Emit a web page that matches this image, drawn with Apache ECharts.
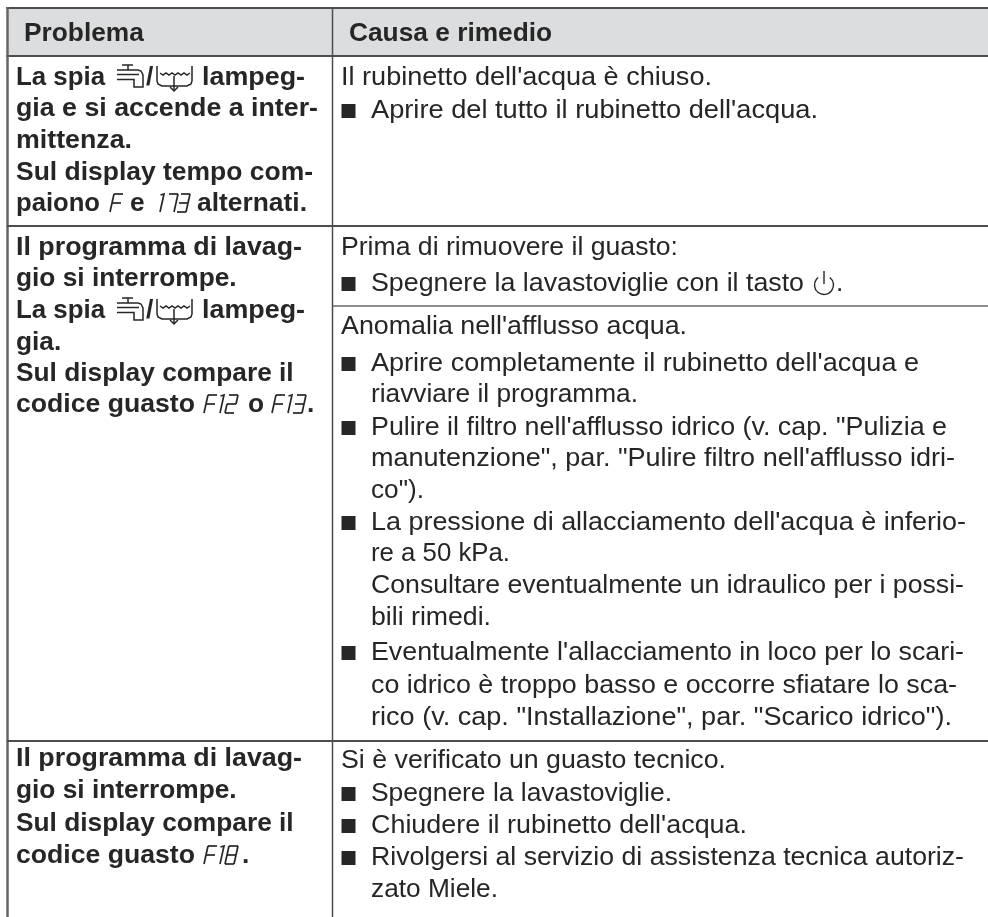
<!DOCTYPE html>
<html><head><meta charset="utf-8">
<style>html,body{margin:0;padding:0;background:#fff}#c{width:988px;height:917px}</style>
<script src="https://cdn.jsdelivr.net/npm/echarts@6/dist/echarts.min.js"></script></head>
<body><div id="c"></div>
<script>
// ---- content ----
const headers = ['Problema', 'Causa e rimedio'];
const problemLines = [
  [['t','La spia'],['faucet'],['t','/'],['tub'],['t','lampeg-']],
  [['t','gia e si accende a inter-']],
  [['t','mittenza.']],
  [['t','Sul display tempo com-']],
  [['t','paiono'],['d','F'],['t','e'],['d','173'],['t','alternati.']],
  [['t','Il programma di lavag-']],
  [['t','gio si interrompe.']],
  [['t','La spia'],['faucet'],['t','/'],['tub'],['t','lampeg-']],
  [['t','gia.']],
  [['t','Sul display compare il']],
  [['t','codice guasto'],['d','F12'],['t','o'],['d','F13'],['t','.']],
  [['t','Il programma di lavag-']],
  [['t','gio si interrompe.']],
  [['t','Sul display compare il']],
  [['t','codice guasto'],['d','F18'],['t','.']]
];
const causeLines = [
  ["Il rubinetto dell'acqua è chiuso.",0],
  ["Aprire del tutto il rubinetto dell'acqua.",1],
  ["Prima di rimuovere il guasto:",0],
  ["Spegnere la lavastoviglie con il tasto",1],
  ["Anomalia nell'afflusso acqua.",0],
  ["Aprire completamente il rubinetto dell'acqua e",1],
  ["riavviare il programma.",2],
  ["Pulire il filtro nell'afflusso idrico (v. cap. \"Pulizia e",1],
  ["manutenzione\", par. \"Pulire filtro nell'afflusso idri-",2],
  ["co\").",2],
  ["La pressione di allacciamento dell'acqua è inferio-",1],
  ["re a 50 kPa.",2],
  ["Consultare eventualmente un idraulico per i possi-",2],
  ["bili rimedi.",2],
  ["Eventualmente l'allacciamento in loco per lo scari-",1],
  ["co idrico è troppo basso e occorre sfiatare lo sca-",2],
  ["rico (v. cap. \"Installazione\", par. \"Scarico idrico\").",2],
  ["Si è verificato un guasto tecnico.",0],
  ["Spegnere la lavastoviglie.",1],
  ["Chiudere il rubinetto dell'acqua.",1],
  ["Rivolgersi al servizio di assistenza tecnica autoriz-",1],
  ["zato Miele.",2]
];
// ---- layout (separate from content) ----
const problemY = [77,108,140,172,203,247,278,310,342,373,404,758,790,823,855];
const causeY = [77,110,247,283,326,363,394,427,458,490,522,553,585,617,652,685,717,760,793,825,857,889];
const causeEnd = [712,818,678,804,687,919,638,947,955,424,966,510,964,491,964,957,952,726,672,747,964,498];
const runX = {0:[16,115,146,158,202],4:[16,110,130,157,197],7:[16,115,146,158,202],10:[16,204,248,272,307],14:[16,204,242]};
const runEnd = {0:[105,0,0,0,305],1:[318],2:[132],3:[313],4:[100,0,0,0,307],5:[302],7:[105,0,0,0,305],10:[195],11:[302],14:[195]};
const FONT = '"Liberation Sans", Arial, sans-serif', INK = '#262626', LINE = '#4d4d4d';
const SIZE = 26.3, DY = 1;
const FAUCET = [
  [[122,5],[133,5]],[[128,5],[128,10]],
  [[117,10],[138,10],[141,11],[143,15],[143,27],[134,27],[134,19.5],[117,19.5]],
  [[117,14.5],[139,14.5]]
];
const TUB = [
  [[157,3],[157,18],[158,21],[162,23],[187,23],[191,21],[192,18],[192,3]],
  [[160,10],[163,12],[166,10],[169,12],[172,10],[175,12],[178,10],[181,12],[184,10],[187,12],[190,10]],
  [[174,13],[174,28]],[[170,24],[174,28],[178,24]]
];
const SEGS = {a:[[0,0],[1,0]],b:[[1,0],[1,.5]],c:[[1,.5],[1,1]],d:[[0,1],[1,1]],e:[[0,.5],[0,1]],f:[[0,0],[0,.5]],g:[[0,.5],[1,.5]]};
const DIGITS = {F:'aefg',2:'abged',3:'abgcd',8:'abcdefg',7:'abc'};

const g = [];
const mctx = document.createElement('canvas').getContext('2d');
const line = (x1,y1,x2,y2,w,c)=>g.push({type:'line',silent:true,shape:{x1,y1,x2,y2},style:{stroke:c||LINE,lineWidth:w||2}});
const text = (x,y,s,bold,end)=>{
  const font=(bold?'bold ':'')+SIZE+'px '+FONT;
  mctx.font=font;
  const sx=end?(end-x)/mctx.measureText(s).width:1;
  g.push({type:'text',x,y:y+DY,scaleX:sx,originX:0,originY:0,style:{text:s,x:0,y:0,fill:INK,font,textAlign:'left',textVerticalAlign:'middle'}});
};
function seg7(x0,yc,str){
  let x=x0; const h=18,w=9,sl=4;
  for(const ch of str){
    const top=yc-h/2;
    const P=(p)=>[x+p[0]*w+(1-p[1])*sl, top+p[1]*h];
    if(ch==='1'){
      g.push({type:'polyline',shape:{points:[[x+sl-.5,top+1],[x+sl+3,top],[x+3,top+h]]},style:{stroke:INK,fill:null,lineWidth:1.7}});
      x+=8; continue;
    }
    for(const k of DIGITS[ch]){
      const [a,b]=SEGS[k];
      g.push({type:'line',shape:{x1:P(a)[0],y1:P(a)[1],x2:P(b)[0],y2:P(b)[1]},style:{stroke:INK,lineWidth:1.7}});
    }
    x+=ch==='F'?13:12;
  }
}
const icon = (strokes,dy)=>strokes.forEach(pts=>g.push({type:'polyline',y:dy,shape:{points:pts},style:{stroke:INK,fill:null,lineWidth:1.5}}));
// header band + rules
g.push({type:'rect',shape:{x:7,y:8,width:981,height:48},style:{fill:'#dcddde'}});
line(6,8,988,8,2); line(6,56,988,56,2);
line(7.5,7,7.5,917,2.5,'#666'); line(332.5,8,332.5,917,1.5);
line(7,226,988,226,2); line(7,741,988,741,2); line(333,306,988,306,1.5,'#666');
text(24,33,headers[0],true); text(349,33,headers[1],true);
// problem column
problemLines.forEach((runs,i)=>{
  const xs=runX[i]||[16], ends=runEnd[i]||[], y=problemY[i];
  runs.forEach((r,j)=>{
    if(r[0]==='t') text(xs[j],y,r[1],true,ends[j]);
    else if(r[0]==='d') seg7(xs[j],y,r[1]);
    else if(r[0]==='faucet') icon(FAUCET,y-17);
    else icon(TUB,y-14);
  });
});
// cause column
causeLines.forEach((c,i)=>{
  const y=causeY[i];
  if(c[1]===1) g.push({type:'rect',shape:{x:341.5,y:y-6,width:14,height:14},style:{fill:INK}});
  text(c[1]===0?341:371,y,c[0],false,causeEnd[i]);
});
// power symbol after "tasto"
g.push({type:'arc',shape:{cx:824,cy:285,r:9.5,startAngle:-Math.PI/2+0.65,endAngle:-Math.PI/2-0.65+Math.PI*2},style:{stroke:INK,fill:null,lineWidth:1.4}});
line(824,271,824,284,1.4,INK);
text(836,283,'.',false);

const chart = echarts.init(document.getElementById('c'),null,{renderer:'canvas'});
chart.setOption({animation:false,backgroundColor:'#fff',graphic:{elements:g}});
</script></body></html>
